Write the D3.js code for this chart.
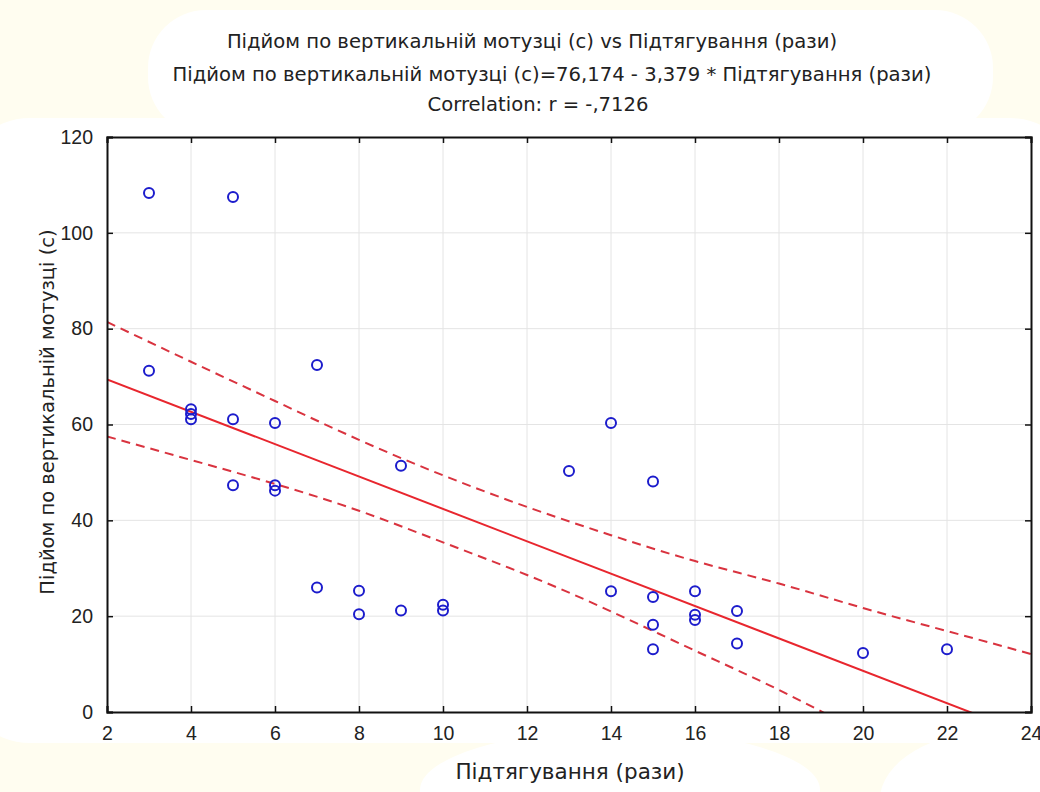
<!DOCTYPE html>
<html>
<head>
<meta charset="utf-8">
<script src="https://cdn.jsdelivr.net/npm/d3@7"></script>
<style>
  html, body { margin: 0; padding: 0; background: #fffdf0; }
  svg { display: block; }
  text { font-family: "DejaVu Sans", "Liberation Sans", Arial, sans-serif; fill: #222; }
</style>
</head>
<body>
<svg id="chart" width="1040" height="792"></svg>
<script>
// ---- Data ----
const pullUps = [3, 3, 5, 7, 4, 4, 4, 5, 6, 9, 5, 6, 6, 7, 8, 8, 9, 10, 10, 13, 14, 15, 14, 15, 15, 15, 16, 16, 16, 17, 17, 20, 22];
const ropeTime = [108.3, 71.2, 107.5, 72.4, 63.2, 62.2, 61.1, 61.1, 60.3, 51.4, 47.3, 47.3, 46.2, 26.0, 25.3, 20.4, 21.2, 22.4, 21.2, 50.3, 60.3, 48.1, 25.2, 24.0, 18.2, 13.1, 25.2, 20.3, 19.2, 21.1, 14.3, 12.3, 13.1];

// regression from the printed equation
const intercept = 76.174;
const slope = -3.379;

// confidence band (dashed) read at the x ticks
const bandX = [2, 4, 6, 8, 10, 12, 14, 16, 18, 20, 22, 24];
const bandUpper = [81.4, 73.1, 64.9, 56.8, 49.4, 42.8, 36.9, 31.5, 26.8, 21.7, 16.9, 12.1];
const bandLower = [57.5, 52.6, 47.6, 42.0, 35.4, 28.6, 21.0, 12.8, 4.6, -4.4, -13.1, -21.8];

const xTicks = [2, 4, 6, 8, 10, 12, 14, 16, 18, 20, 22, 24];
const yTicks = [0, 20, 40, 60, 80, 100, 120];

const titleLines = [
  "Підйом по вертикальній мотузці (с) vs Підтягування (рази)",
  "Підйом по вертикальній мотузці (с)=76,174 - 3,379 * Підтягування (рази)",
  "Correlation: r = -,7126"
];
const xLabel = "Підтягування (рази)";
const yLabel = "Підйом по вертикальній мотузці (с)";

// ---- Drawing ----
const svg = d3.select("#chart");
const W = 1040, H = 792;
const plot = { left: 107, right: 1031, top: 137, bottom: 712 };

// decorative background
svg.append("rect").attr("width", W).attr("height", H).attr("fill", "#fffdf0");
svg.append("rect").attr("x", -40).attr("y", 118).attr("width", W + 80).attr("height", 625)
  .attr("rx", 70).attr("fill", "#ffffff");
svg.append("rect").attr("x", 148).attr("y", 10).attr("width", 845).attr("height", 125)
  .attr("rx", 58).attr("fill", "#ffffff");
svg.append("ellipse").attr("cx", 620).attr("cy", 790).attr("rx", 200).attr("ry", 60).attr("fill", "#ffffff");
svg.append("ellipse").attr("cx", 1000).attr("cy", 800).attr("rx", 120).attr("ry", 70).attr("fill", "#ffffff");

const x = d3.scaleLinear().domain([2, 24]).range([plot.left, plot.right]);
const y = d3.scaleLinear().domain([0, 120]).range([plot.bottom, plot.top]);

// plot background
svg.append("rect").attr("x", plot.left).attr("y", plot.top)
  .attr("width", plot.right - plot.left).attr("height", plot.bottom - plot.top)
  .attr("fill", "#ffffff");

// gridlines
const grid = svg.append("g");
grid.selectAll("line.vx").data(xTicks.slice(1, -1)).join("line")
  .attr("x1", d => x(d)).attr("x2", d => x(d))
  .attr("y1", plot.top).attr("y2", plot.bottom)
  .attr("stroke", "#e4e4e4").attr("stroke-width", 1);
grid.selectAll("line.hy").data(yTicks.slice(1, -1)).join("line")
  .attr("y1", d => y(d)).attr("y2", d => y(d))
  .attr("x1", plot.left).attr("x2", plot.right)
  .attr("stroke", "#e4e4e4").attr("stroke-width", 1);

// clip
svg.append("clipPath").attr("id", "clip").append("rect")
  .attr("x", plot.left).attr("y", plot.top)
  .attr("width", plot.right - plot.left).attr("height", plot.bottom - plot.top);

const g = svg.append("g").attr("clip-path", "url(#clip)");

// confidence bands
const bandLine = d3.line().curve(d3.curveNatural).x(d => x(d[0])).y(d => y(d[1]));
g.append("path").datum(bandX.map((v, i) => [v, bandUpper[i]]))
  .attr("d", bandLine).attr("fill", "none").attr("stroke", "#d9333f")
  .attr("stroke-width", 2).attr("stroke-dasharray", "9,6");
g.append("path").datum(bandX.map((v, i) => [v, bandLower[i]]))
  .attr("d", bandLine).attr("fill", "none").attr("stroke", "#d9333f")
  .attr("stroke-width", 2).attr("stroke-dasharray", "9,6");

// regression line
const xDom = x.domain();
g.append("line")
  .attr("x1", x(xDom[0])).attr("y1", y(intercept + slope * xDom[0]))
  .attr("x2", x(xDom[1])).attr("y2", y(intercept + slope * xDom[1]))
  .attr("stroke", "#e8262e").attr("stroke-width", 2);

// points
g.selectAll("circle").data(pullUps.map((v, i) => [v, ropeTime[i]])).join("circle")
  .attr("cx", d => x(d[0])).attr("cy", d => y(d[1])).attr("r", 5)
  .attr("fill", "none").attr("stroke", "#1c1ccc").attr("stroke-width", 2);

// axes (ticks inward on all four sides)
const tickLen = 6;
const axB = svg.append("g").attr("transform", `translate(0,${plot.bottom})`)
  .call(d3.axisBottom(x).tickValues(xTicks).tickSize(-tickLen).tickPadding(14).tickFormat(d3.format("d")));
const axT = svg.append("g").attr("transform", `translate(0,${plot.top})`)
  .call(d3.axisTop(x).tickValues(xTicks).tickSize(-tickLen).tickFormat(""));
const axL = svg.append("g").attr("transform", `translate(${plot.left},0)`)
  .call(d3.axisLeft(y).tickValues(yTicks).tickSize(-tickLen).tickPadding(14).tickFormat(d3.format("d")));
const axR = svg.append("g").attr("transform", `translate(${plot.right},0)`)
  .call(d3.axisRight(y).tickValues(yTicks).tickSize(-tickLen).tickFormat(""));
[axB, axT, axL, axR].forEach(a => {
  a.select(".domain").attr("stroke", "#111").attr("stroke-width", 2);
  a.selectAll(".tick line").attr("stroke", "#111").attr("stroke-width", 1.5);
  a.selectAll("text").style("font-family", '"Liberation Sans", Arial, sans-serif')
    .style("font-size", "19.5px").attr("fill", "#1a1a1a");
});

// titles
const titleCx = [532, 552, 538];
const titleY = [48, 81, 111];
svg.selectAll("text.title").data(titleLines).join("text")
  .attr("class", "title")
  .attr("x", (d, i) => titleCx[i]).attr("y", (d, i) => titleY[i])
  .attr("text-anchor", "middle").style("font-size", "19.6px").text(d => d);

svg.append("text").attr("x", 570).attr("y", 779).attr("text-anchor", "middle")
  .style("font-size", "21.5px").text(xLabel);
svg.append("text").attr("transform", "translate(54,412) rotate(-90)")
  .attr("text-anchor", "middle").style("font-size", "19.5px").text(yLabel);
</script>
</body>
</html>
